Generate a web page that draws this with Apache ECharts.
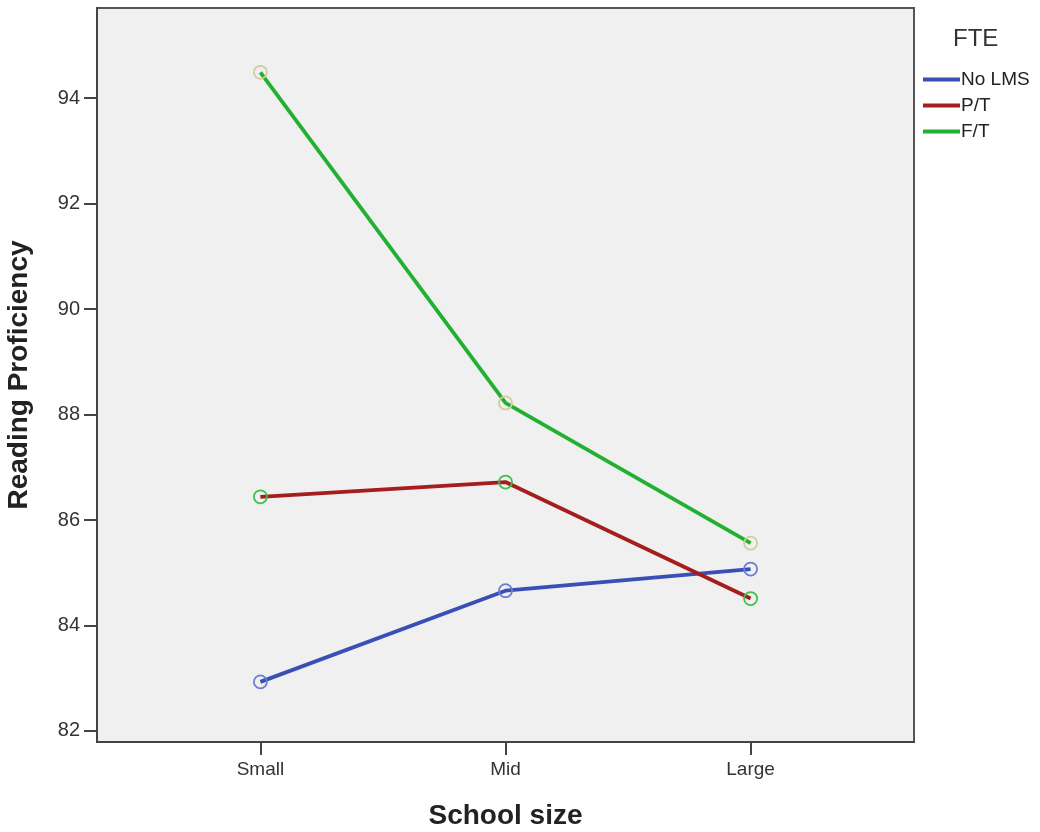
<!DOCTYPE html>
<html>
<head>
<meta charset="utf-8">
<script src="https://cdn.jsdelivr.net/npm/echarts@6/dist/echarts.min.js"></script>
<style>html,body{margin:0;padding:0;background:#fff}#c{width:1040px;height:832px}</style>
</head>
<body>
<div id="c"></div>
<script>
var categories = ['Small', 'Mid', 'Large'];
var seriesNames = ['No LMS', 'P/T', 'F/T'];
var noLms = [82.93, 84.66, 85.07];
var partTime = [86.44, 86.72, 84.51];
var fullTime = [94.49, 88.22, 85.56];
var yTicks = [82, 84, 86, 88, 90, 92, 94];
var lineColors = ['#3a4fb5', '#a51d1d', '#22b032'];
var markerColors = ['#6a7fd0', '#3cc24a', '#d2cc98'];

function pts(arr) { return arr.map(function (v, i) { return [i, v]; }); }
var allData = [noLms, partTime, fullTime];

var chart = echarts.init(document.getElementById('c'));
chart.setOption({
  animation: false,
  textStyle: { fontFamily: 'Liberation Sans, Arial, sans-serif' },
  title: {
    text: 'FTE', left: 948, top: 22,
    textStyle: { fontSize: 24, fontWeight: 'normal', color: '#333' }
  },
  legend: {
    orient: 'vertical', left: 918, top: 65, itemGap: 7,
    itemWidth: 37, itemHeight: 4, icon: 'rect',
    textStyle: { fontSize: 19, color: '#222', padding: [0, 0, 0, -4] },
    data: seriesNames.map(function (n, i) {
      return { name: n, itemStyle: { color: lineColors[i], borderColor: lineColors[i], borderWidth: 0 } };
    })
  },
  grid: {
    left: 97, right: 126, top: 8, bottom: 90,
    outerBoundsMode: 'none', containLabel: false,
    show: true, backgroundColor: '#f0f0f0', borderColor: '#555', borderWidth: 2
  },
  xAxis: {
    type: 'value', min: -2 / 3, max: 8 / 3,
    name: 'School size', nameLocation: 'middle', nameGap: 60,
    nameTextStyle: { fontSize: 28, fontWeight: 'bold', color: '#222' },
    axisLine: { show: true, onZero: false, lineStyle: { color: '#444', width: 2 } },
    axisTick: { show: true, customValues: [0, 1, 2], length: 13, lineStyle: { color: '#444', width: 2 } },
    axisLabel: {
      customValues: [0, 1, 2], margin: 18, fontSize: 19, color: '#333',
      formatter: function (v) { return categories[Math.round(v)]; }
    },
    splitLine: { show: false }
  },
  yAxis: {
    type: 'value', min: 81.79, max: 95.71,
    name: 'Reading Proficiency', nameLocation: 'middle', nameGap: 64,
    nameTextStyle: { fontSize: 28, fontWeight: 'bold', color: '#222' },
    axisLine: { show: true, onZero: false, lineStyle: { color: '#444', width: 2 } },
    axisTick: { show: true, customValues: yTicks, length: 13, lineStyle: { color: '#444', width: 2 } },
    axisLabel: { customValues: yTicks, margin: 17, fontSize: 20, color: '#333' },
    splitLine: { show: false }
  },
  series: seriesNames.map(function (n, i) {
    return {
      name: n, type: 'line', data: pts(allData[i]),
      symbol: 'circle', symbolSize: 13,
      lineStyle: { color: lineColors[i], width: 3.8 },
      itemStyle: { color: 'rgba(0,0,0,0)', borderColor: markerColors[i], borderWidth: 1.8 },
      emphasis: { disabled: true }
    };
  })
});
</script>
</body>
</html>
